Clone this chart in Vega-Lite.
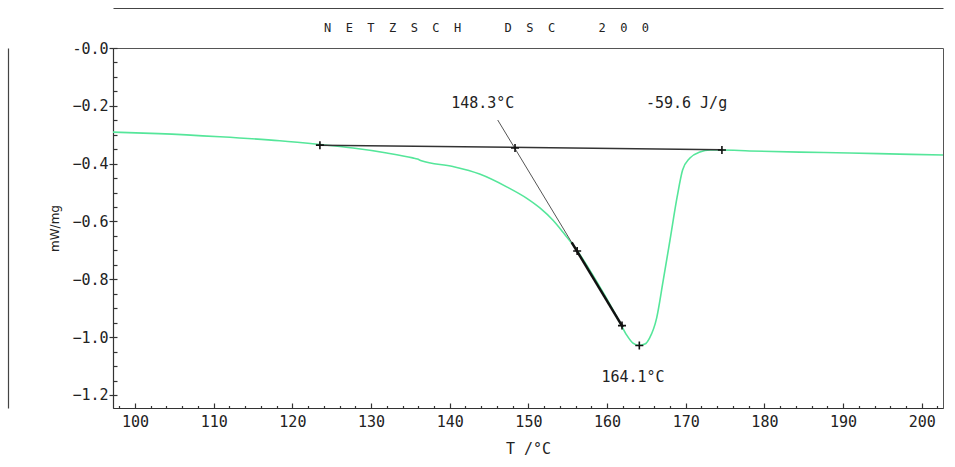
{
  "$schema": "https://vega.github.io/schema/vega-lite/v6.json",
  "width": 830,
  "height": 360,
  "autosize": {"type": "none"},
  "padding": {"left": 113, "top": 48, "right": 12, "bottom": 59},
  "background": "white",
  "config": {"view": {"stroke": "#555", "strokeWidth": 1}},
  "datasets": {
    "curve": [
      {"T": 97.2, "v": -0.291}, {"T": 103.0, "v": -0.296}, {"T": 110.8, "v": -0.307},
      {"T": 118.4, "v": -0.321}, {"T": 123.5, "v": -0.334}, {"T": 127.7, "v": -0.346},
      {"T": 132.0, "v": -0.363}, {"T": 135.3, "v": -0.380}, {"T": 135.9, "v": -0.384},
      {"T": 136.4, "v": -0.390}, {"T": 140.4, "v": -0.410}, {"T": 143.8, "v": -0.436},
      {"T": 147.3, "v": -0.481}, {"T": 149.8, "v": -0.520}, {"T": 151.5, "v": -0.554},
      {"T": 153.1, "v": -0.595}, {"T": 154.6, "v": -0.644}, {"T": 155.9, "v": -0.689},
      {"T": 157.8, "v": -0.768}, {"T": 159.7, "v": -0.855}, {"T": 161.6, "v": -0.948},
      {"T": 162.5, "v": -0.993}, {"T": 163.3, "v": -1.021}, {"T": 164.0, "v": -1.029},
      {"T": 164.8, "v": -1.024}, {"T": 165.4, "v": -1.003}, {"T": 166.3, "v": -0.934},
      {"T": 167.1, "v": -0.810}, {"T": 168.0, "v": -0.664}, {"T": 168.9, "v": -0.516},
      {"T": 169.6, "v": -0.422}, {"T": 170.5, "v": -0.381}, {"T": 171.8, "v": -0.360},
      {"T": 173.1, "v": -0.353}, {"T": 174.6, "v": -0.353}, {"T": 178.1, "v": -0.356},
      {"T": 184.5, "v": -0.360}, {"T": 190.8, "v": -0.363}, {"T": 197.2, "v": -0.367},
      {"T": 202.7, "v": -0.370}
    ],
    "baseline": [{"T": 123.5, "v": -0.336}, {"T": 174.6, "v": -0.352}],
    "tangentThin": [{"T": 146.1, "v": -0.249}, {"T": 162.0, "v": -0.965}],
    "tangentThick": [{"T": 155.5, "v": -0.672}, {"T": 162.0, "v": -0.965}],
    "markers": [
      {"T": 123.5, "v": -0.336}, {"T": 148.3, "v": -0.346}, {"T": 156.2, "v": -0.702},
      {"T": 161.9, "v": -0.960}, {"T": 164.1, "v": -1.029}, {"T": 174.6, "v": -0.353}
    ],
    "labels": [
      {"T": 144.2, "v": -0.19, "text": "148.3°C"},
      {"T": 170.1, "v": -0.19, "text": "-59.6 J/g"},
      {"T": 163.3, "v": -1.138, "text": "164.1°C"}
    ]
  },
  "resolve": {"axis": {"x": "independent", "y": "independent"}},
  "layer": [
    {
      "data": {"name": "curve"},
      "mark": {"type": "line", "color": "#55e69a", "strokeWidth": 1.6, "interpolate": "monotone"},
      "encoding": {
        "x": {
          "field": "T", "type": "quantitative",
          "scale": {"domain": [97.2, 202.7], "nice": false, "zero": false},
          "axis": {
            "orient": "bottom",
            "values": [100, 110, 120, 130, 140, 150, 160, 170, 180, 190, 200],
            "tickSize": -5, "tickColor": "#333", "tickWidth": 1.2,
            "domainColor": "#333", "domainWidth": 1.2,
            "grid": false,
            "labelFont": "DejaVu Sans Mono", "labelFontSize": 15, "labelColor": "#222",
            "labelPadding": 11, "labelFlush": false,
            "title": "T /°C", "titleFont": "DejaVu Sans Mono", "titleFontSize": 15,
            "titleFontWeight": "normal", "titleColor": "#222", "titlePadding": 12
          }
        },
        "y": {
          "field": "v", "type": "quantitative",
          "scale": {"domain": [-1.245, 0], "nice": false, "zero": false},
          "axis": {
            "orient": "left",
            "values": [0, -0.2, -0.4, -0.6, -0.8, -1.0, -1.2],
            "labelExpr": "datum.value == 0 ? '-0.0' : format(datum.value, '.1f')",
            "tickSize": 4, "tickColor": "#333", "tickWidth": 1.2,
            "domainColor": "#333", "domainWidth": 1.2,
            "grid": false,
            "labelFont": "DejaVu Sans Mono", "labelFontSize": 15, "labelColor": "#222",
            "labelPadding": 1, "labelFlush": false,
            "title": "mW/mg", "titleFont": "DejaVu Sans", "titleFontSize": 12,
            "titleFontWeight": "normal", "titleColor": "#222", "titlePadding": 10
          }
        }
      }
    },
    {
      "data": {"name": "baseline"},
      "mark": {"type": "line", "color": "#333", "strokeWidth": 1.5},
      "encoding": {
        "x": {
          "field": "T", "type": "quantitative",
          "axis": {
            "orient": "bottom",
            "values": [98, 102, 104, 106, 108, 112, 114, 116, 118, 122, 124, 126, 128, 132, 134, 136, 138, 142, 144, 146, 148, 152, 154, 156, 158, 162, 164, 166, 168, 172, 174, 176, 178, 182, 184, 186, 188, 192, 194, 196, 198, 202],
            "tickSize": -2.5, "tickColor": "#333", "tickWidth": 1.2,
            "domain": false, "labels": false, "grid": false, "title": null
          }
        },
        "y": {
          "field": "v", "type": "quantitative",
          "axis": {
            "orient": "left",
            "values": [0, -0.05, -0.1, -0.15, -0.2, -0.25, -0.3, -0.35, -0.4, -0.45, -0.5, -0.55, -0.6, -0.65, -0.7, -0.75, -0.8, -0.85, -0.9, -0.95, -1.0, -1.05, -1.1, -1.15, -1.2],
            "tickSize": -4, "tickColor": "#333", "tickWidth": 1.2,
            "domain": false, "labels": false, "grid": false, "title": null
          }
        }
      }
    },
    {
      "data": {"name": "tangentThin"},
      "mark": {"type": "line", "color": "#555", "strokeWidth": 1},
      "encoding": {
        "x": {
          "field": "T", "type": "quantitative",
          "axis": {
            "orient": "top", "offset": 40, "domainColor": "#444", "domainWidth": 1.2,
            "ticks": false, "labels": false, "grid": false,
            "title": "N\u00a0\u00a0E\u00a0\u00a0T\u00a0\u00a0Z\u00a0\u00a0S\u00a0\u00a0C\u00a0\u00a0H\u00a0\u00a0\u00a0\u00a0\u00a0\u00a0D\u00a0\u00a0S\u00a0\u00a0C\u00a0\u00a0\u00a0\u00a0\u00a0\u00a02\u00a0\u00a00\u00a0\u00a00",
            "titleFont": "DejaVu Sans Mono", "titleFontSize": 12, "titleFontWeight": "normal",
            "titleColor": "#222", "titleX": 373, "titleY": 19, "titleAlign": "center", "titleBaseline": "middle"
          }
        },
        "y": {
          "field": "v", "type": "quantitative",
          "axis": {"orient": "left", "offset": 105, "domainColor": "#444", "domainWidth": 1.2, "ticks": false, "labels": false, "grid": false, "title": null}
        }
      }
    },
    {
      "data": {"name": "tangentThick"},
      "mark": {"type": "line", "color": "#111", "strokeWidth": 2.5},
      "encoding": {
        "x": {"field": "T", "type": "quantitative", "axis": null},
        "y": {"field": "v", "type": "quantitative", "axis": null}
      }
    },
    {
      "data": {"name": "markers"},
      "mark": {"type": "point", "shape": "M-1,0H1M0,-1V1", "size": 64, "filled": false, "stroke": "#111", "strokeWidth": 1.6, "opacity": 1},
      "encoding": {
        "x": {"field": "T", "type": "quantitative", "axis": null},
        "y": {"field": "v", "type": "quantitative", "axis": null}
      }
    },
    {
      "data": {"name": "labels"},
      "mark": {"type": "text", "font": "DejaVu Sans Mono", "fontSize": 15, "color": "#222", "align": "center", "baseline": "middle"},
      "encoding": {
        "x": {"field": "T", "type": "quantitative", "axis": null},
        "y": {"field": "v", "type": "quantitative", "axis": null},
        "text": {"field": "text"}
      }
    }
  ]
}
